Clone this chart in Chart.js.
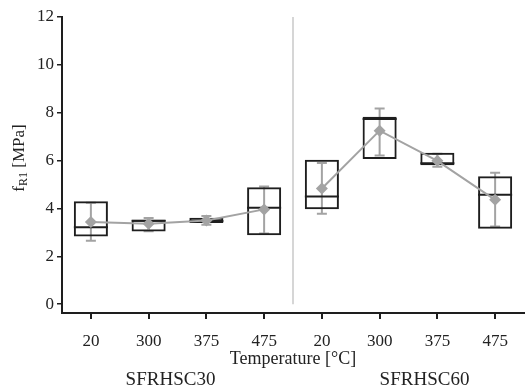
<!DOCTYPE html>
<html>
<head>
<meta charset="utf-8">
<script src="https://cdn.jsdelivr.net/npm/chart.js@4/dist/chart.umd.min.js"></script>
<style>
  html, body { margin: 0; padding: 0; background: #fff; }
  #wrap { width: 531px; height: 389px; }
</style>
</head>
<body>
<div id="wrap"><canvas id="fr1Chart"></canvas></div>
<script>
// categories (temperature per mix)
const temps = ['20', '300', '375', '475', '20', '300', '375', '475'];
const groups = ['SFRHSC30', 'SFRHSC60'];

// box plot values [MPa]
const boxLow = [2.83, 3.04, 3.39, 2.88, 3.97, 6.07, 5.80, 3.15];
const boxHigh = [4.30, 3.53, 3.61, 4.88, 6.03, 7.83, 6.33, 5.35];
const medians = [3.21, 3.48, 3.47, 4.03, 4.50, 7.74, 5.89, 4.57];

// means and error bars
const means = [3.43, 3.36, 3.50, 3.96, 4.83, 7.25, 5.99, 4.36];
const errLow = [2.65, 3.05, 3.32, 2.95, 3.78, 6.21, 5.74, 3.24];
const errHigh = [4.24, 3.60, 3.68, 4.92, 5.90, 8.18, 6.29, 5.49];

const yTicks = [0, 2, 4, 6, 8, 10, 12];

const GRAY = '#a3a3a3';
const BOX = '#1e1e1e';
const SERIF = '"Liberation Serif", "DejaVu Serif", serif';

// error bars, group separator, x tick marks, y title and group labels
const extrasPlugin = {
    id: 'extras',
    beforeDatasetsDraw(chart) {
        const ctx = chart.ctx;
        const x = chart.scales.x;
        const y = chart.scales.y;

        // separator between the two mixes
        const sx = (x.getPixelForValue(3) + x.getPixelForValue(4)) / 2;
        ctx.save();
        ctx.strokeStyle = '#c8c8c8';
        ctx.lineWidth = 1.5;
        ctx.beginPath();
        ctx.moveTo(sx, y.getPixelForValue(12));
        ctx.lineTo(sx, y.getPixelForValue(0));
        ctx.stroke();

        // error bars
        ctx.strokeStyle = GRAY;
        ctx.lineWidth = 2;
        for (let i = 0; i < means.length; i++) {
            const cx = x.getPixelForValue(i);
            const top = y.getPixelForValue(errHigh[i]);
            const bot = y.getPixelForValue(errLow[i]);
            ctx.beginPath();
            ctx.moveTo(cx, top);
            ctx.lineTo(cx, bot);
            ctx.moveTo(cx - 5, top);
            ctx.lineTo(cx + 5, top);
            ctx.moveTo(cx - 5, bot);
            ctx.lineTo(cx + 5, bot);
            ctx.stroke();
        }
        ctx.restore();
    },
    afterDraw(chart) {
        const ctx = chart.ctx;
        const x = chart.scales.x;
        const area = chart.chartArea;
        ctx.save();

        // tick marks under the category centres
        ctx.strokeStyle = BOX;
        ctx.lineWidth = 2;
        ctx.beginPath();
        for (let i = 0; i < temps.length; i++) {
            const cx = Math.round(x.getPixelForValue(i));
            ctx.moveTo(cx, area.bottom);
            ctx.lineTo(cx, area.bottom + 6);
        }
        ctx.stroke();

        ctx.fillStyle = '#222';

        // group labels under the axis title
        ctx.font = '19px ' + SERIF;
        ctx.textAlign = 'center';
        ctx.textBaseline = 'middle';
        const g1 = (x.getPixelForValue(0) + x.getPixelForValue(3)) / 2 - 7;
        const g2 = (x.getPixelForValue(4) + x.getPixelForValue(7)) / 2 + 16;
        ctx.fillText(groups[0], g1, 380);
        ctx.fillText(groups[1], g2, 380);

        // y title f_R1 [MPa] with subscript
        ctx.translate(18, (area.top + area.bottom) / 2 - 7);
        ctx.rotate(-Math.PI / 2);
        ctx.textAlign = 'left';
        ctx.textBaseline = 'alphabetic';
        const big = '17px ' + SERIF;
        const small = '12px ' + SERIF;
        ctx.font = big;
        const wF = ctx.measureText('f').width;
        ctx.font = small;
        const wSub = ctx.measureText('R1').width;
        ctx.font = big;
        const wRest = ctx.measureText(' [MPa]').width;
        let px = -(wF + wSub + wRest) / 2;
        ctx.fillText('f', px, 6);
        px += wF;
        ctx.font = small;
        ctx.fillText('R1', px, 9);
        px += wSub;
        ctx.font = big;
        ctx.fillText(' [MPa]', px, 6);
        ctx.restore();
    }
};

const ctx = document.getElementById('fr1Chart').getContext('2d');
const chart = new Chart(ctx, {
    type: 'bar',
    data: {
        labels: temps,
        datasets: [
            {
                type: 'line',
                label: 'mean',
                data: means,
                borderColor: GRAY,
                backgroundColor: GRAY,
                borderWidth: 2,
                pointStyle: 'rectRot',
                pointRadius: 6,
                pointBorderWidth: 0,
                tension: 0,
                segment: {
                    // no connection between the two mixes
                    borderColor: c => c.p0DataIndex === 3 ? 'rgba(0,0,0,0)' : GRAY
                },
                order: 0
            },
            {
                type: 'line',
                label: 'median',
                data: medians,
                showLine: false,
                pointStyle: 'line',
                pointRadius: 17,
                pointBorderWidth: 2,
                borderColor: BOX,
                backgroundColor: BOX,
                order: 1
            },
            {
                label: 'box',
                data: boxLow.map((lo, i) => [lo, boxHigh[i]]),
                backgroundColor: 'rgba(0,0,0,0)',
                borderColor: BOX,
                borderWidth: 2,
                borderSkipped: false,
                categoryPercentage: 1,
                barPercentage: 0.59,
                order: 2
            }
        ]
    },
    options: {
        responsive: true,
        maintainAspectRatio: false,
        animation: false,
        events: [],
        layout: { autoPadding: false, padding: { top: 17, right: 7, left: 0, bottom: 0 } },
        plugins: {
            legend: { display: false },
            tooltip: { enabled: false }
        },
        scales: {
            x: {
                offset: true,
                grid: { display: false },
                border: { display: true, color: BOX, width: 2 },
                ticks: {
                    color: '#222',
                    font: { family: SERIF, size: 17 },
                    padding: 10,
                    maxRotation: 0,
                    autoSkip: false
                },
                title: {
                    display: true,
                    text: 'Temperature [°C]',
                    color: '#222',
                    font: { family: SERIF, size: 18 },
                    padding: { top: 0, bottom: 19 }
                },
                afterFit: s => {
                    s.height = 76;
                    s.paddingLeft = 0;
                    s.paddingRight = 0;
                }
            },
            y: {
                min: -0.37,
                max: 12,
                grid: {
                    display: true,
                    drawOnChartArea: false,
                    drawTicks: true,
                    tickLength: 5,
                    color: BOX,
                    lineWidth: 1.5
                },
                border: { display: true, color: BOX, width: 2 },
                ticks: {
                    color: '#222',
                    font: { family: SERIF, size: 17 },
                    padding: 3
                },
                afterBuildTicks: s => { s.ticks = yTicks.map(v => ({ value: v })); },
                afterFit: s => { s.width = 62; }
            }
        }
    },
    plugins: [extrasPlugin]
});
</script>
</body>
</html>
